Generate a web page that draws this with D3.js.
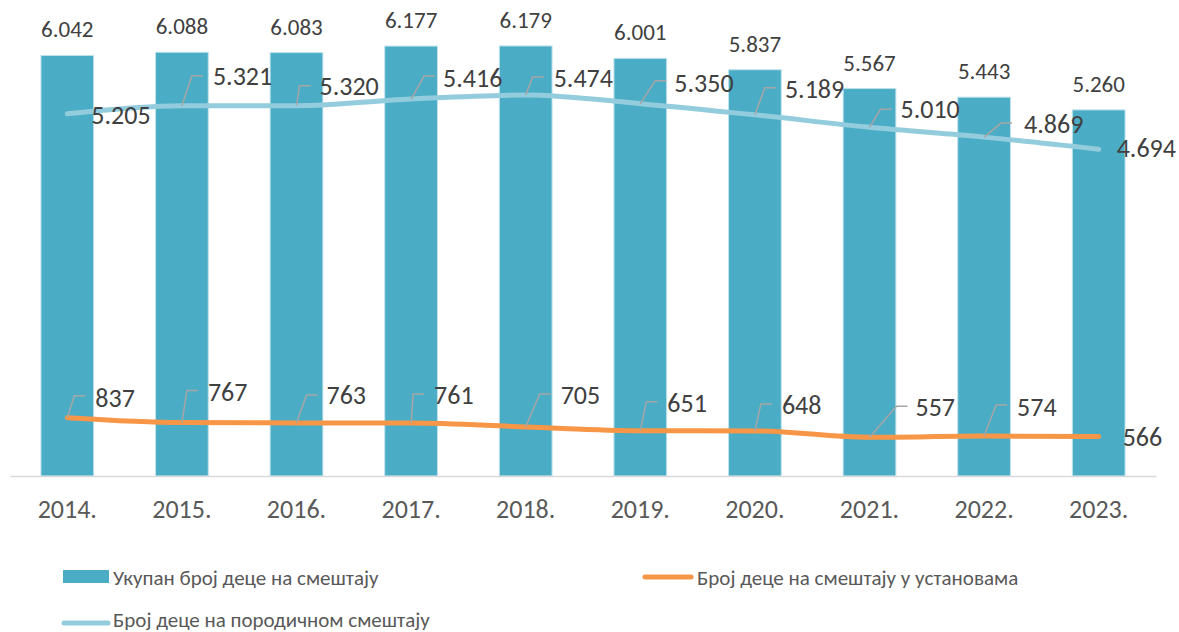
<!DOCTYPE html>
<meta charset="utf-8">
<head>
<title>Деца на смештају</title>
<script src="https://d3js.org/d3.v7.min.js"></script>
<style>
  body { margin: 0; background: #fff; }
  text { font-family: Calibri, Carlito, "Open Sans", sans-serif; }
</style>
</head>
<body>
<div id="chart"></div>
<script>
  // podaci
  var years = ["2014.", "2015.", "2016.", "2017.", "2018.", "2019.", "2020.", "2021.", "2022.", "2023."];
  var totalKids = [6042, 6088, 6083, 6177, 6179, 6001, 5837, 5567, 5443, 5260];
  var familyKids = [5205, 5321, 5320, 5416, 5474, 5350, 5189, 5010, 4869, 4694];
  var institutionKids = [837, 767, 763, 761, 705, 651, 648, 557, 574, 566];

  var seriesNames = ["Укупан број деце на смештају", "Број деце на смештају у установама", "Број деце на породичном смештају"];

  // raspored oznaka: [knee dx, knee dy, text dx, text dy] u odnosu na tačku, null = bez linije
  var familyLabelPos = [
    [null, null, 24, 10], [10, -30, 31, -21], [3, -20, 23, -11], [13, -23, 32, -12], [7, -18, 28, -8],
    [15, -23, 34, -12], [10, -27, 30, -17], [11, -18, 31, -9], [17, -14, 40, -4], [null, null, 18, 8]
  ];
  var instLabelPos = [
    [7, -22, 28, -11], [5, -32, 26, -22], [10, -28, 30, -19], [2, -29, 23, -19], [14, -33, 35, -23],
    [6, -29, 27, -19], [6, -27, 27, -17], [27, -31, 46, -21], [12, -31, 33, -20], [null, null, 24, 9]
  ];

  var W = 1179, H = 632;
  var svg = d3.select("#chart").append("svg")
    .attr("width", W).attr("height", H);

  var sr = d3.formatLocale({decimal: ",", thousands: ".", grouping: [3], currency: ["", ""]});
  var fmt = sr.format(",d");

  var x = d3.scaleBand()
    .domain(years)
    .range([10, 1156])
    .paddingInner(0.54)
    .paddingOuter(0.27);

  var y = d3.scaleLinear()
    .domain([0, 6500])
    .range([476, 476 - 6500 * 0.0696]);

  var cx = function(i) { return x(years[i]) + x.bandwidth() / 2; };

  // stubici
  svg.append("g").selectAll("rect")
    .data(totalKids)
    .enter().append("rect")
      .attr("x", function(d, i) { return x(years[i]); })
      .attr("y", function(d) { return y(d); })
      .attr("width", x.bandwidth())
      .attr("height", function(d) { return y(0) - y(d); })
      .style("fill", "#4BACC6")
      .style("stroke", "#BDE2EB")
      .style("stroke-width", 1);

  svg.append("g").selectAll("text")
    .data(totalKids)
    .enter().append("text")
      .attr("x", function(d, i) { return cx(i); })
      .attr("y", function(d) { return y(d) - 18; })
      .attr("text-anchor", "middle")
      .style("font-size", "23px")
      .style("fill", "#404040")
      .text(function(d) { return fmt(d); });

  // x osa
  var xAxis = svg.append("g")
    .attr("transform", "translate(0,476)")
    .call(d3.axisBottom(x).tickSize(0));
  xAxis.select(".domain").style("stroke", "#D9D9D9").style("stroke-width", 1.5);
  xAxis.selectAll("text")
    .attr("y", 42)
    .attr("dy", "0")
    .style("font-size", "26px")
    .style("fill", "#595959")
    .style("font-family", "Calibri, Carlito, 'Open Sans', sans-serif");

  // linije
  var line = d3.line()
    .x(function(d, i) { return cx(i); })
    .y(function(d) { return y(d); })
    .curve(d3.curveMonotoneX);

  function drawSeries(values, color, pos) {
    svg.append("path")
      .datum(values)
      .attr("d", line)
      .style("fill", "none")
      .style("stroke", color)
      .style("stroke-width", 5)
      .style("stroke-linecap", "round")
      .style("stroke-linejoin", "round");

    var g = svg.append("g");
    values.forEach(function(v, i) {
      var px = cx(i), py = y(v), p = pos[i];
      if (p[0] !== null) {
        g.append("path")
          .attr("d", "M" + px + "," + py + "L" + (px + p[0]) + "," + (py + p[1]) + "h11")
          .style("fill", "none")
          .style("stroke", "#A6A6A6")
          .style("stroke-width", 1.5);
      }
      g.append("text")
        .attr("x", px + p[2])
        .attr("y", py + p[3])
        .style("font-size", "26px")
        .style("fill", "#404040")
        .text(fmt(v));
    });
  }

  drawSeries(familyKids, "#93CDDD", familyLabelPos);
  drawSeries(institutionKids, "#F79646", instLabelPos);

  // legenda
  var leg = svg.append("g").style("font-size", "21px").style("fill", "#595959");

  leg.append("rect")
    .attr("x", 63).attr("y", 570).attr("width", 46).attr("height", 13)
    .style("fill", "#4BACC6");
  leg.append("text").attr("x", 113).attr("y", 585).text(seriesNames[0]);

  leg.append("line")
    .attr("x1", 645).attr("x2", 691).attr("y1", 577).attr("y2", 577)
    .style("stroke", "#F79646").style("stroke-width", 5).style("stroke-linecap", "round");
  leg.append("text").attr("x", 697).attr("y", 585).text(seriesNames[1]);

  leg.append("line")
    .attr("x1", 64).attr("x2", 108).attr("y1", 623).attr("y2", 623)
    .style("stroke", "#93CDDD").style("stroke-width", 5).style("stroke-linecap", "round");
  leg.append("text").attr("x", 113).attr("y", 627).text(seriesNames[2]);
</script>
</body>
